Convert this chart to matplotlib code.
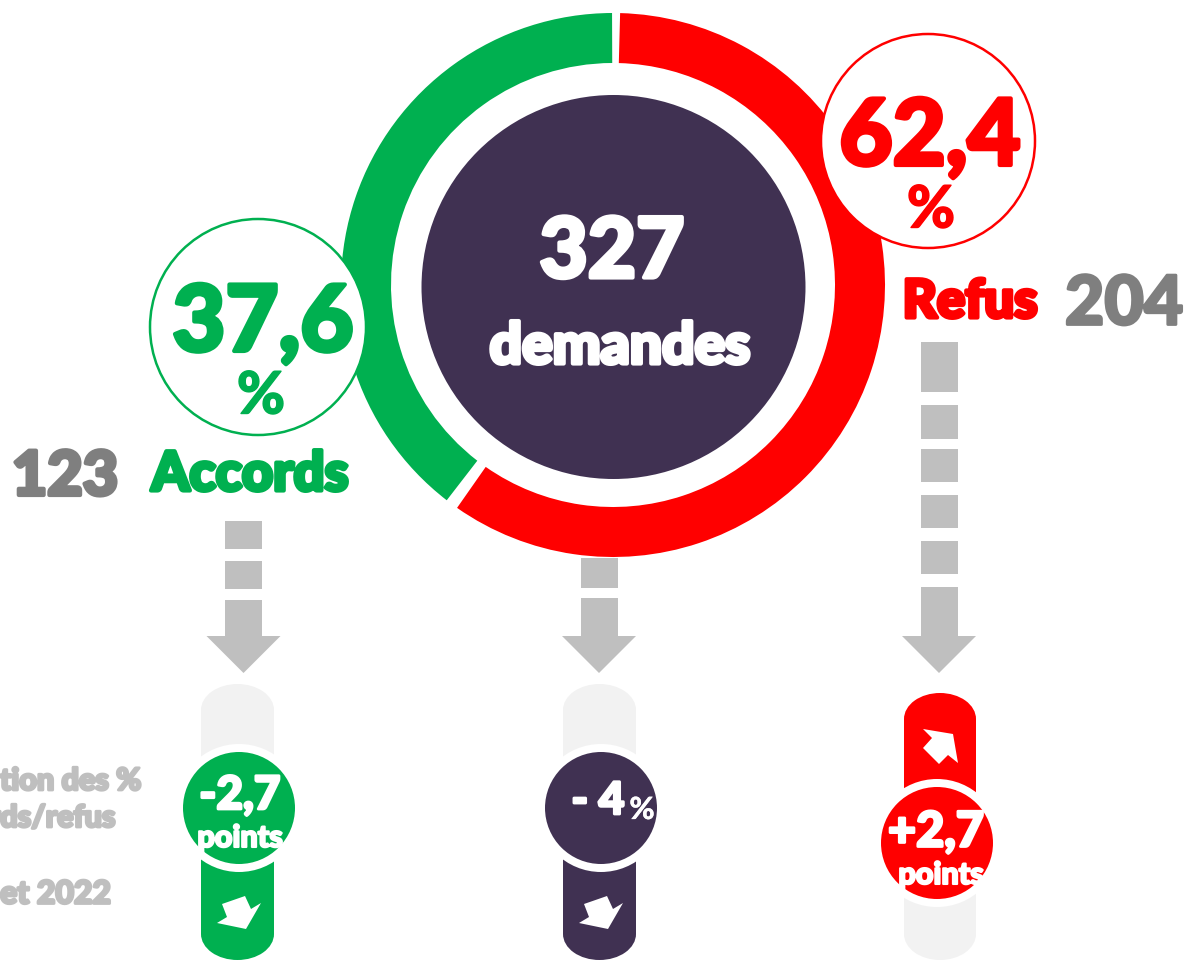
import matplotlib
matplotlib.use("Agg")
import matplotlib.pyplot as plt
import matplotlib.patheffects as pe
from matplotlib.patches import Wedge, Circle, Rectangle, Ellipse, Polygon

# colours
GREEN = "#00B050"
RED = "#FF0000"
DARK = "#403152"
GREY = "#BFBFBF"
NUM_GREY = "#7F7F7F"
LIGHT = "#F2F2F2"

# data
total_label = "327"
total_word = "demandes"
categories = ["Accords", "Refus"]
counts = ["123", "204"]
share_labels = ["37,6", "62,4"]
ring_shares = [39.7, 60.3]  # share of the ring as it is drawn, not the printed %
change_labels = ["-2,7", "- 4", "+2,7"]
note_lines = ["Variation des %", "accords/refus", "entre 2021 et 2022"]

fig = plt.figure(figsize=(11.91, 9.6), dpi=100)
ax = fig.add_axes([0, 0, 1, 1])
ax.set_xlim(0, 1191)
ax.set_ylim(960, 0)  # pixel coords, y going down
ax.axis("off")


def label(x, y, s, size, color, ha="center", stroke=1.5):
    t = ax.text(x, y, s, fontsize=size, color=color, ha=ha, va="center",
                family="Lato", weight="black", zorder=10)
    t.set_path_effects([pe.withStroke(linewidth=stroke, foreground=color)])
    return t


def dashed_arrow(xc, dashes, shaft_top):
    for y0, y1 in dashes:
        ax.add_patch(Rectangle((xc - 18.5, y0), 37, y1 - y0, color=GREY, lw=0))
    ax.add_patch(Rectangle((xc - 18.5, shaft_top), 37, 636 - shaft_top, color=GREY, lw=0))
    ax.add_patch(Polygon([(xc - 37, 636), (xc + 37, 636), (xc, 673)], color=GREY, lw=0))


def half_pill(x0, x1, y0, y1, color, top):
    xm = (x0 + x1) / 2
    w = x1 - x0
    if top:
        ax.add_patch(Ellipse((xm, y0 + 26), w, 52, color=color, lw=0))
        ax.add_patch(Rectangle((x0, y0 + 26), w, y1 - y0 - 26, color=color, lw=0))
    else:
        ax.add_patch(Ellipse((xm, y1 - 26), w, 52, color=color, lw=0))
        ax.add_patch(Rectangle((x0, y0), w, y1 - y0 - 26, color=color, lw=0))


def badge(xc, yc, color):
    ax.add_patch(Circle((xc, yc), 64, color="white", lw=0, zorder=4))
    ax.add_patch(Circle((xc, yc), 56, color=color, lw=0, zorder=5))


# ring
cx, cy = 613, 285
r_out, ring_w = 272, 50
green_sweep = 360 * ring_shares[0] / sum(ring_shares)
ax.add_patch(Wedge((cx, cy), r_out, 270 - green_sweep + 0.6, 270 - 0.2, width=ring_w, color=GREEN, lw=0))
ax.add_patch(Wedge((cx, cy), r_out, 271.5, 270 - green_sweep + 357.9, width=ring_w, color=RED, lw=0))
ax.add_patch(Circle((613.5, 287), 192, color=DARK, lw=0))

# callout circles
ax.add_patch(Circle((928, 141), 107, facecolor="white", edgecolor=RED, lw=1.8, zorder=3))
ax.add_patch(Circle((258, 327), 108, facecolor="white", edgecolor=GREEN, lw=1.8, zorder=3))

# dashed arrows
dashed_arrow(243.5, [(521, 549), (561, 589)], 600)
dashed_arrow(599, [(558, 588)], 598)
dashed_arrow(939, [(342, 392), (405, 439), (449, 482), (495, 528), (541, 574)], 587)

# pills and badges
half_pill(201, 274, 684, 808, LIGHT, True)
half_pill(201, 274, 808, 960, GREEN, False)
half_pill(563, 636, 684, 808, LIGHT, True)
half_pill(563, 636, 808, 960, DARK, False)
half_pill(904, 976, 693, 843, RED, True)
half_pill(904, 976, 843, 960, LIGHT, False)
badge(239, 808, GREEN)
badge(601, 808, DARK)
badge(937, 843, RED)

# little arrows in the pills
down_arrow = [(222, 904), (245, 896), (251, 909), (261, 903), (246, 929), (217, 923), (227, 917)]
ax.add_patch(Polygon(down_arrow, color="white", lw=0))
ax.add_patch(Polygon([(x + 362, y) for x, y in down_arrow], color="white", lw=0))
ax.add_patch(Polygon([(923, 729), (953, 734), (958, 763), (948, 755), (939, 764), (923, 748), (932, 738)],
                     color="white", lw=0))

# texts
label(612, 253, total_label, 60, "white", stroke=3)
label(620, 347, total_word, 41, "white", stroke=3)

label(930, 139, share_labels[1], 66, RED, stroke=3)
label(931, 211, "%", 42, RED, stroke=1)
label(263, 325, share_labels[0], 66, GREEN, stroke=3)
label(261, 397, "%", 42, GREEN, stroke=1)

label(970, 302, categories[1], 38, RED, stroke=3)
label(1124, 305, counts[1], 49, NUM_GREY, stroke=2)
label(250, 475, categories[0], 39, GREEN, stroke=3)
label(65, 477, counts[0], 44, NUM_GREY, stroke=3)

label(240, 796, change_labels[0], 33, "white", stroke=2)
label(240, 838, "points", 22, "white", stroke=1.5)
label(598, 801, change_labels[1], 32, "white", stroke=2)
label(642, 810, "%", 22, "white", stroke=0.2)
label(936, 832, change_labels[2], 35, "white", stroke=2)
label(941, 875, "points", 22, "white", stroke=1.5)

label(141, 781, note_lines[0], 22, GREY, ha="right", stroke=2)
label(115, 818, note_lines[1], 22, GREY, ha="right", stroke=2)
label(112, 894, note_lines[2], 23, GREY, ha="right", stroke=2)

fig.savefig("out.png", dpi=100)
